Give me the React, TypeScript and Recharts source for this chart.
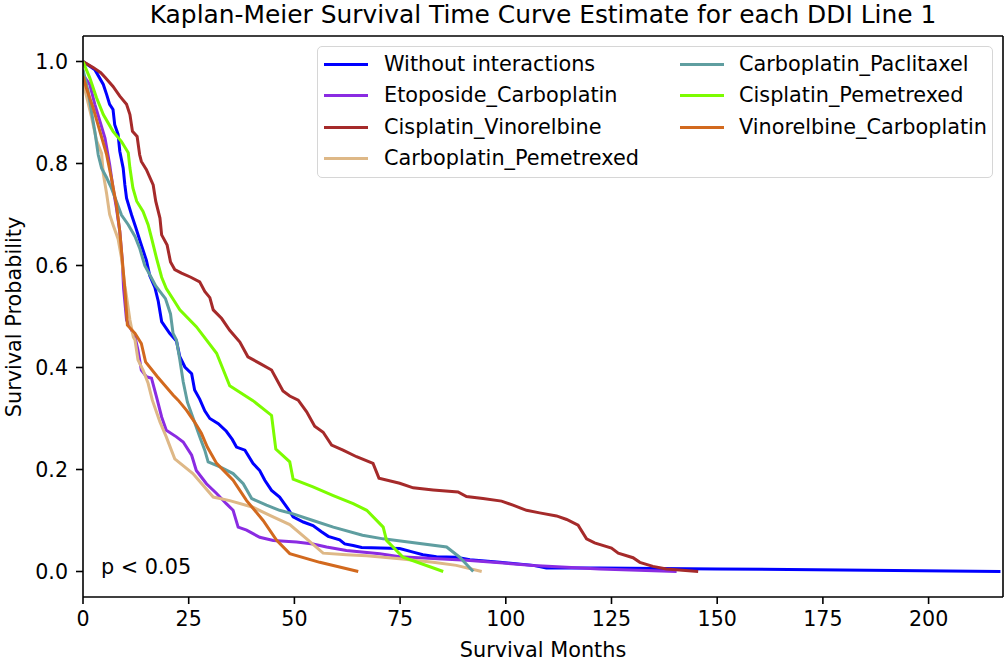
import React from 'react';
import { LineChart, Line, XAxis, YAxis } from 'recharts';

const FONT = "'DejaVu Sans', Verdana, sans-serif";

const seriesNames = [
  'Without interactions',
  'Etoposide_Carboplatin',
  'Cisplatin_Vinorelbine',
  'Carboplatin_Pemetrexed',
  'Carboplatin_Paclitaxel',
  'Cisplatin_Pemetrexed',
  'Vinorelbine_Carboplatin',
];
const seriesColors = ['#0000ff', '#8a2be2', '#a52a2a', '#deb887', '#5f9ea0', '#7cfc00', '#d2691e'];

const withoutT = [0, 2.8, 4.8, 5.6, 6.3, 7.1, 7.5, 8.3, 8.7, 9.5, 9.9, 10.3, 11.5, 12.5, 13.6, 15.0, 15.8, 17.0, 17.8, 18.6, 20.5, 22.1, 22.9, 24.1, 25.7, 26.4, 27.6, 28.8, 30.0, 32.0, 33.9, 35.3, 36.3, 38.3, 40.2, 41.8, 43.0, 44.6, 46.5, 48.5, 49.7, 52.1, 54.4, 56.4, 58.0, 60.7, 61.9, 63.9, 65.9, 74.9, 78.1, 80.4, 83.6, 88.3, 91.5, 98.6, 106.5, 109.6, 122.2, 150, 217];
const withoutP = [1.0, 0.984, 0.955, 0.935, 0.916, 0.906, 0.876, 0.857, 0.824, 0.791, 0.758, 0.732, 0.699, 0.674, 0.645, 0.61, 0.58, 0.557, 0.53, 0.49, 0.467, 0.452, 0.421, 0.401, 0.388, 0.356, 0.338, 0.315, 0.3, 0.29, 0.275, 0.259, 0.244, 0.238, 0.212, 0.198, 0.179, 0.159, 0.146, 0.123, 0.107, 0.097, 0.09, 0.078, 0.069, 0.062, 0.054, 0.051, 0.047, 0.045, 0.038, 0.033, 0.029, 0.028, 0.023, 0.018, 0.012, 0.007, 0.007, 0.005, 0.0];

const etoCarT = [0, 1.6, 2.8, 4.0, 5.2, 6.3, 7.1, 7.9, 8.7, 9.3, 9.6, 10.3, 11.5, 12.3, 13.0, 13.8, 15.0, 16.2, 17.4, 18.6, 19.7, 22.1, 23.7, 25.7, 26.8, 29.2, 31.6, 33.9, 35.5, 36.7, 38.7, 41.8, 45.0, 50.5, 54.4, 57.6, 62.3, 70.2, 74.9, 90.7, 106.5, 122.2, 140.4];
const etoCarP = [0.974, 0.955, 0.916, 0.883, 0.85, 0.798, 0.752, 0.713, 0.667, 0.608, 0.555, 0.493, 0.473, 0.46, 0.434, 0.395, 0.382, 0.379, 0.342, 0.303, 0.277, 0.264, 0.254, 0.228, 0.198, 0.172, 0.153, 0.133, 0.12, 0.087, 0.081, 0.067, 0.061, 0.058, 0.054, 0.048, 0.041, 0.035, 0.029, 0.022, 0.012, 0.005, 0.0];

const cisVinT = [0, 2.4, 4.2, 5.2, 7.1, 8.7, 10.3, 11.1, 11.7, 12.8, 13.4, 13.8, 15.0, 16.6, 17.2, 18.2, 18.6, 19.9, 20.7, 21.7, 23.3, 25.5, 27.6, 28.8, 30.0, 30.8, 32.8, 34.7, 37.1, 39.0, 41.8, 44.6, 47.3, 48.9, 50.9, 52.9, 54.8, 56.8, 58.8, 61.5, 64.7, 68.6, 70.0, 74.9, 78.1, 82.8, 88.7, 90.7, 94.6, 99.0, 101.7, 104.9, 108.0, 112.0, 114.4, 117.1, 119.1, 121.0, 125.0, 126.6, 130.1, 131.7, 134.8, 138.0, 145.5];
const cisVinP = [1.0, 0.988, 0.978, 0.969, 0.951, 0.932, 0.916, 0.896, 0.863, 0.853, 0.817, 0.804, 0.788, 0.758, 0.726, 0.693, 0.66, 0.64, 0.607, 0.592, 0.585, 0.577, 0.568, 0.549, 0.537, 0.513, 0.496, 0.473, 0.45, 0.421, 0.408, 0.395, 0.354, 0.344, 0.336, 0.313, 0.285, 0.273, 0.248, 0.238, 0.225, 0.212, 0.183, 0.173, 0.164, 0.16, 0.156, 0.147, 0.143, 0.138, 0.13, 0.12, 0.115, 0.109, 0.102, 0.091, 0.064, 0.056, 0.046, 0.036, 0.027, 0.018, 0.01, 0.005, 0.0];

const carPemT = [0, 2.0, 3.2, 4.4, 4.8, 5.6, 6.3, 7.1, 8.3, 9.1, 9.9, 10.3, 11.1, 11.9, 12.3, 13.0, 14.2, 15.4, 16.4, 18.2, 19.7, 20.9, 21.7, 26.0, 30.8, 34.7, 40.2, 44.2, 48.9, 52.9, 56.8, 62.3, 67.1, 74.9, 82.8, 88.3, 94.3];
const carPemP = [0.96, 0.892, 0.845, 0.82, 0.78, 0.74, 0.7, 0.68, 0.652, 0.615, 0.56, 0.539, 0.493, 0.46, 0.454, 0.415, 0.395, 0.369, 0.336, 0.293, 0.264, 0.238, 0.221, 0.192, 0.146, 0.139, 0.126, 0.11, 0.092, 0.064, 0.036, 0.033, 0.031, 0.025, 0.018, 0.012, 0.0];

const carPacT = [0, 1.2, 2.0, 2.8, 3.6, 4.4, 5.6, 6.7, 7.9, 9.1, 10.7, 12.3, 13.4, 14.6, 15.8, 17.2, 19.5, 20.7, 21.3, 22.1, 22.9, 23.7, 24.7, 26.2, 27.8, 28.8, 29.6, 32.4, 35.5, 37.9, 39.9, 43.4, 46.5, 49.7, 54.4, 59.2, 66.1, 71.0, 86.0, 89.1, 92.3];
const carPacP = [0.984, 0.942, 0.902, 0.863, 0.817, 0.791, 0.772, 0.752, 0.726, 0.699, 0.68, 0.657, 0.634, 0.6, 0.582, 0.56, 0.535, 0.505, 0.467, 0.454, 0.415, 0.372, 0.332, 0.297, 0.26, 0.238, 0.215, 0.205, 0.192, 0.172, 0.143, 0.13, 0.12, 0.113, 0.1, 0.087, 0.071, 0.064, 0.048, 0.028, 0.0];

const cisPemT = [0, 1.6, 3.2, 4.8, 7.1, 9.1, 10.7, 11.1, 11.8, 12.7, 14.2, 15.4, 16.2, 17.4, 18.6, 19.7, 21.7, 22.9, 26.8, 31.6, 34.7, 40.2, 44.6, 45.6, 48.9, 49.7, 54.4, 59.2, 63.9, 67.1, 71.0, 71.8, 75.7, 85.2];
const cisPemP = [1.0, 0.968, 0.929, 0.896, 0.863, 0.843, 0.821, 0.791, 0.752, 0.726, 0.706, 0.68, 0.654, 0.614, 0.577, 0.555, 0.529, 0.513, 0.48, 0.428, 0.364, 0.335, 0.306, 0.24, 0.215, 0.181, 0.166, 0.149, 0.133, 0.12, 0.087, 0.061, 0.028, 0.0];

const vinCarT = [0, 0.8, 2.4, 4.0, 5.6, 6.7, 7.9, 8.7, 9.2, 9.9, 10.5, 12.3, 13.8, 14.8, 17.6, 21.3, 22.5, 24.5, 26.4, 28.0, 29.4, 31.6, 35.5, 38.7, 42.6, 45.8, 48.9, 56.0, 65.1];
const vinCarP = [0.971, 0.948, 0.909, 0.863, 0.817, 0.772, 0.719, 0.667, 0.62, 0.553, 0.483, 0.467, 0.447, 0.411, 0.382, 0.346, 0.336, 0.316, 0.293, 0.271, 0.244, 0.212, 0.179, 0.139, 0.1, 0.061, 0.035, 0.018, 0.0];

const xTicks = [0, 25, 50, 75, 100, 125, 150, 175, 200];
const yTicks = [0, 0.2, 0.4, 0.6, 0.8, 1.0];

const seriesT = [withoutT, etoCarT, cisVinT, carPemT, carPacT, cisPemT, vinCarT];
const seriesP = [withoutP, etoCarP, cisVinP, carPemP, carPacP, cisPemP, vinCarP];

const toPts = (t: number[], p: number[]) => t.map((x, i) => ({ t: x, p: p[i] }));

const W = 1004;
const H = 663;
const PLOT_LEFT = 83;
const PLOT_TOP = 36;
const PLOT_RIGHT = 1003;
const PLOT_BOTTOM = 597;

const tickStyle = { fontFamily: FONT, fontSize: 20.6, fill: '#000' };

export default function App() {
  const legendCol1 = [0, 1, 2, 3];
  const legendCol2 = [4, 5, 6];
  const rowY = [17, 48, 80, 111];
  const renderEntry = (idx: number, row: number, lineX: number, textX: number) => (
    <div key={idx}>
      <div
        style={{
          position: 'absolute',
          left: lineX,
          top: rowY[row] - 1.5,
          width: 44,
          height: 3,
          background: seriesColors[idx],
        }}
      />
      <div
        style={{
          position: 'absolute',
          left: textX,
          top: rowY[row],
          transform: 'translateY(-50%)',
          fontFamily: FONT,
          fontSize: 20.8,
          lineHeight: 1,
          whiteSpace: 'nowrap',
          color: '#000',
        }}
      >
        {seriesNames[idx]}
      </div>
    </div>
  );

  return (
    <div style={{ position: 'absolute', left: 0, top: 0, width: W, height: H, background: '#fff' }}>
      <LineChart
        width={W}
        height={H}
        margin={{ top: PLOT_TOP - 1, right: W - PLOT_RIGHT - 1, bottom: 0, left: 0 }}
      >
        <XAxis
          xAxisId="main"
          dataKey="t"
          type="number"
          domain={[0, 217.6]}
          allowDataOverflow
          ticks={xTicks}
          height={H - PLOT_BOTTOM}
          tickSize={7}
          tickMargin={7}
          tick={tickStyle}
          axisLine={{ stroke: '#000', strokeWidth: 1.6 }}
          tickLine={{ stroke: '#000', strokeWidth: 1.6 }}
        />
        <XAxis
          xAxisId="top"
          orientation="top"
          type="number"
          domain={[0, 217.6]}
          height={1}
          tick={false}
          tickLine={false}
          axisLine={{ stroke: '#000', strokeWidth: 1.6 }}
        />
        <YAxis
          yAxisId="main"
          type="number"
          domain={[-0.05, 1.05]}
          allowDataOverflow
          ticks={yTicks}
          width={PLOT_LEFT}
          tickSize={7}
          tickMargin={8}
          tick={tickStyle}
          tickFormatter={(v: number) => v.toFixed(1)}
          axisLine={{ stroke: '#000', strokeWidth: 1.6 }}
          tickLine={{ stroke: '#000', strokeWidth: 1.6 }}
        />
        <YAxis
          yAxisId="right"
          orientation="right"
          type="number"
          domain={[-0.05, 1.05]}
          width={1}
          tick={false}
          tickLine={false}
          axisLine={{ stroke: '#000', strokeWidth: 1.6 }}
        />
        {seriesNames.map((name, i) => (
          <Line
            key={name}
            name={name}
            xAxisId="main"
            yAxisId="main"
            data={toPts(seriesT[i], seriesP[i])}
            dataKey="p"
            type="linear"
            stroke={seriesColors[i]}
            strokeWidth={3}
            dot={false}
            activeDot={false}
            isAnimationActive={false}
          />
        ))}
      </LineChart>

      {/* Title */}
      <div
        style={{
          position: 'absolute',
          left: (PLOT_LEFT + PLOT_RIGHT) / 2,
          top: 15,
          transform: 'translate(-50%, -50%)',
          fontFamily: FONT,
          fontSize: 24.9,
          lineHeight: 1,
          whiteSpace: 'nowrap',
          color: '#000',
        }}
      >
        Kaplan-Meier Survival Time Curve Estimate for each DDI Line 1
      </div>

      {/* X label */}
      <div
        style={{
          position: 'absolute',
          left: (PLOT_LEFT + PLOT_RIGHT) / 2,
          top: 650,
          transform: 'translate(-50%, -50%)',
          fontFamily: FONT,
          fontSize: 20.8,
          lineHeight: 1,
          whiteSpace: 'nowrap',
          color: '#000',
        }}
      >
        Survival Months
      </div>

      {/* Y label */}
      <div
        style={{
          position: 'absolute',
          left: 14,
          top: (PLOT_TOP + PLOT_BOTTOM) / 2,
          transform: 'translate(-50%, -50%) rotate(-90deg)',
          fontFamily: FONT,
          fontSize: 20.8,
          lineHeight: 1,
          whiteSpace: 'nowrap',
          color: '#000',
        }}
      >
        Survival Probability
      </div>

      {/* p-value */}
      <div
        style={{
          position: 'absolute',
          left: 101,
          top: 567,
          transform: 'translateY(-50%)',
          fontFamily: FONT,
          fontSize: 20.8,
          lineHeight: 1,
          whiteSpace: 'nowrap',
          color: '#000',
        }}
      >
        p &lt; 0.05
      </div>

      {/* Legend */}
      <div
        style={{
          position: 'absolute',
          left: 317,
          top: 46,
          width: 676,
          height: 132,
          boxSizing: 'border-box',
          border: '1.5px solid #d6d6d6',
          borderRadius: 5,
          background: 'rgba(255,255,255,0.8)',
        }}
      >
        {legendCol1.map((idx, row) => renderEntry(idx, row, 6, 66))}
        {legendCol2.map((idx, row) => renderEntry(idx, row, 362, 421))}
      </div>
    </div>
  );
}
